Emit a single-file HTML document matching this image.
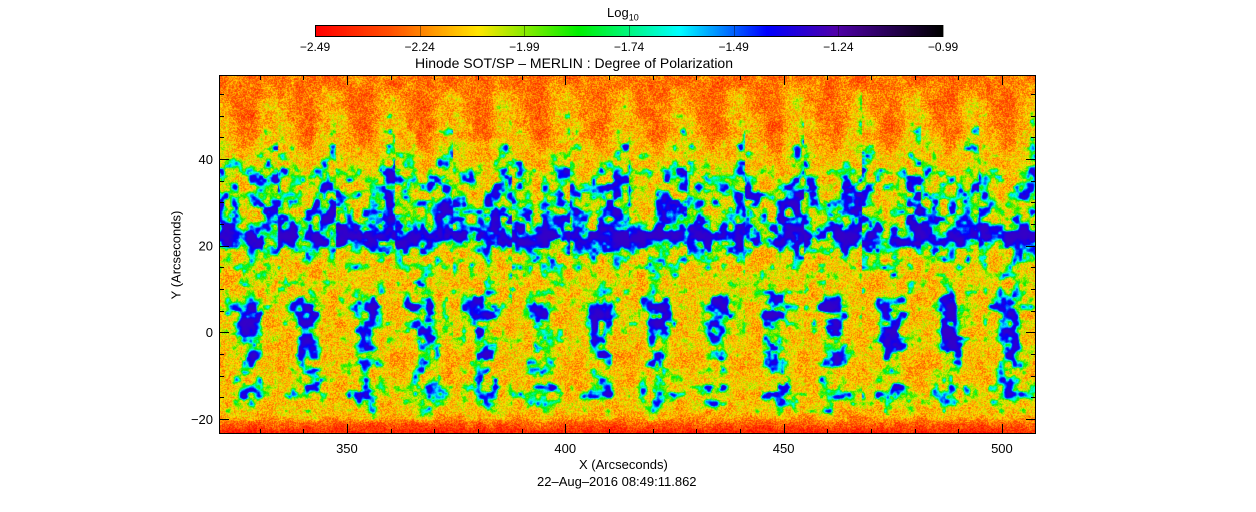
<!DOCTYPE html>
<html><head><meta charset="utf-8"><style>
html,body{margin:0;padding:0;background:#fff;}
body{width:1256px;height:512px;position:relative;overflow:hidden;font-family:"Liberation Sans",sans-serif;color:#000;}
.t{position:absolute;font-size:13px;white-space:nowrap;}
</style></head><body>
<canvas id="cb" width="628" height="12" style="position:absolute;left:315px;top:25px;"></canvas>
<canvas id="hm" width="817" height="359" style="position:absolute;left:219px;top:75px;"></canvas>
<svg id="ax" width="1256" height="512" style="position:absolute;left:0;top:0;"></svg>
<div class="t" style="left:607px;top:5px;">Log<sub style="font-size:9px">10</sub></div>
<div class="t" style="left:415px;top:55px;font-size:14px;">Hinode SOT/SP &#8211; MERLIN : Degree of Polarization</div>
<div class="t" style="left:579px;top:457px;">X (Arcseconds)</div>
<div class="t" style="left:537px;top:474px;">22&#8211;Aug&#8211;2016 08:49:11.862</div>
<div class="t" style="top:255px;transform:translate(-50%,-50%) rotate(-90deg);transform-origin:center;left:176px;">Y (Arcseconds)</div>
<script>
const cbTicks=[-2.49,-2.24,-1.99,-1.74,-1.49,-1.24,-0.99];
const xTicks=[350,400,450,500];
const yTicks=[-20,0,20,40];
const rowY=[58,52,46,41,36,31,26,22,18,14,10,6,2,-2,-6,-10,-14,-18,-21,-23.5];
const tileProfile=[
[-2.3,-2.25,-2.3,-2.3,-2.25,-2.3],
[-2.2,-2.3,-2.3,-2.3,-2.2,-2.1],
[-2.1,-2.2,-2.3,-2.3,-2.2,-1.9],
[-1.9,-2.0,-2.2,-2.2,-2.0,-1.8],
[-1.75,-1.85,-1.95,-1.85,-1.75,-1.7],
[-1.7,-1.85,-1.95,-1.8,-1.7,-1.7],
[-1.7,-1.75,-1.85,-1.75,-1.7,-1.65],
[-1.5,-1.5,-1.55,-1.5,-1.5,-1.5],
[-1.85,-1.95,-1.85,-1.8,-1.85,-1.85],
[-2.0,-2.0,-1.95,-2.0,-2.0,-2.0],
[-2.0,-2.1,-1.95,-1.95,-2.1,-2.0],
[-2.05,-1.7,-1.55,-1.55,-1.75,-2.05],
[-2.1,-2.0,-1.6,-1.65,-2.0,-2.1],
[-2.1,-2.0,-1.65,-1.65,-1.95,-2.1],
[-2.2,-2.1,-1.75,-1.65,-2.0,-2.2],
[-2.2,-2.0,-1.85,-1.9,-2.0,-2.2],
[-2.0,-1.85,-1.7,-1.7,-1.85,-2.0],
[-2.15,-2.05,-1.9,-1.9,-2.05,-2.15],
[-2.3,-2.3,-2.3,-2.3,-2.3,-2.3],
[-2.45,-2.45,-2.45,-2.45,-2.45,-2.45]];
const xMin=320.7,xMax=507.8,yMin=-23.5,yMax=59.4,tileW=13.4,vMin=-2.49,vMax=-0.99;
const PX0=219,PX1=1036,PY0=75,PY1=434;
const sx=v=>PX0+(v-xMin)/(xMax-xMin)*(PX1-PX0);
const sy=v=>PY1-(v-yMin)/(yMax-yMin)*(PY1-PY0);
const stops=[[0,255,0,0],[0.12,255,80,0],[0.26,255,230,0],[0.42,0,240,0],[0.58,0,255,255],[0.72,0,0,255],[0.83,80,0,170],[1,0,0,0]];
function cmap(f){f=Math.max(0,Math.min(1,f));for(let i=1;i<stops.length;i++){if(f<=stops[i][0]){const a=stops[i-1],b=stops[i],t=(f-a[0])/(b[0]-a[0]);return[a[1]+(b[1]-a[1])*t,a[2]+(b[2]-a[2])*t,a[3]+(b[3]-a[3])*t];}}return[0,0,0];}
(function(){const c=document.getElementById('cb').getContext('2d');for(let x=0;x<628;x++){const [r,g,b]=cmap(x/627);c.fillStyle=`rgb(${r|0},${g|0},${b|0})`;c.fillRect(x,0,1,12);}})();
function h(i,j){let n=i*374761393+j*668265263;n=(n^(n>>13))*1274126177;return ((n^(n>>16))&0xffff)/65535;}
function vn(x,y,s){const X=x/s,Y=y/s,i=Math.floor(X),j=Math.floor(Y),fx=X-i,fy=Y-j;const ux=fx*fx*(3-2*fx),uy=fy*fy*(3-2*fy);const a=h(i,j),b=h(i+1,j),c=h(i,j+1),d=h(i+1,j+1);return a+(b-a)*ux+(c-a)*uy+(a-b-c+d)*ux*uy-0.5;}
function profile(ax,ay){
  const tx=((ax-xMin)%tileW)/tileW*6-0.5;
  let ci=Math.floor(tx),cf=tx-ci;const c0=Math.max(0,Math.min(5,ci)),c1=Math.max(0,Math.min(5,ci+1));
  let r=0;while(r<rowY.length-2&&ay<rowY[r+1])r++;
  let rf=(rowY[r]-ay)/(rowY[r]-rowY[r+1]);rf=Math.max(0,Math.min(1,rf));
  const v0=tileProfile[r][c0]*(1-cf)+tileProfile[r][c1]*cf;
  const v1=tileProfile[r+1][c0]*(1-cf)+tileProfile[r+1][c1]*cf;
  return v0*(1-rf)+v1*rf;
}
(function(){const cv=document.getElementById('hm'),c=cv.getContext('2d'),W=cv.width,H=cv.height,img=c.createImageData(W,H);
for(let y=0;y<H;y++)for(let x=0;x<W;x++){
  const ax=xMin+x/(W-1)*(xMax-xMin),ay=yMax-y/(H-1)*(yMax-yMin);
  const base=profile(ax,ay);
  const tile=Math.floor((ax-xMin)/tileW);
  const pv=base+0.6*vn(x+tile*7,y,8)+0.25*vn(x,y,3.5);
  const s=1/(1+Math.exp(-(pv+1.74)*13));
  const lo=Math.min(-2.16,base+0.02)+0.1*vn(x+50,y,10);
  let v=lo+(-1.3-lo)*s;
  v+=(1-s)*0.24*(h(x,y*7+1)-0.5);
  const [r,g,b]=cmap((v-vMin)/(vMax-vMin));const k=(y*W+x)*4;
  img.data[k]=r;img.data[k+1]=g;img.data[k+2]=b;img.data[k+3]=255;}
c.putImageData(img,0,0);})();
(function(){const s=document.getElementById('ax'),NS='http://www.w3.org/2000/svg';
function el(t,a,name){const e=document.createElementNS(NS,t);for(const k in a)e.setAttribute(k,a[k]);


s.appendChild(e);return e;}
el('rect',{x:PX0+0.5,y:PY0+0.5,width:PX1-PX0-1,height:PY1-PY0-1,fill:'none',stroke:'#000','stroke-width':1},'plot-frame');
el('rect',{x:315.5,y:25.5,width:627,height:11,fill:'none',stroke:'#000','stroke-width':1},'colorbar-frame');
for(let v=330;v<=500;v+=10){const x=Math.round(sx(v))+0.5,L=(v%50===0)?10:5;
el('line',{x1:x,x2:x,y1:PY1,y2:PY1-L,stroke:'#000'},'x-tick');el('line',{x1:x,x2:x,y1:PY0,y2:PY0+L,stroke:'#000'},'x-tick-top');}
for(let v=-20;v<=55;v+=5){const y=Math.round(sy(v))+0.5,L=(v%20===0)?10:5;
el('line',{x1:PX0,x2:PX0+L,y1:y,y2:y,stroke:'#000'},'y-tick');el('line',{x1:PX1,x2:PX1-L,y1:y,y2:y,stroke:'#000'},'y-tick-right');}
xTicks.forEach(v=>{const t=el('text',{x:sx(v),y:453,'text-anchor':'middle','font-size':13,'font-family':'Liberation Sans'},'x-tick-label');t.textContent=v;});
yTicks.forEach(v=>{const t=el('text',{x:213,y:sy(v)+5,'text-anchor':'end','font-size':13,'font-family':'Liberation Sans'},'y-tick-label');t.textContent=v<0?'\u2212'+(-v):v;});
cbTicks.forEach(v=>{const x=315+(v-vMin)/(vMax-vMin)*628;
el('line',{x1:Math.round(x)+0.5,x2:Math.round(x)+0.5,y1:25,y2:37,stroke:'#000','stroke-opacity':0.4},'colorbar-tick');
const t=el('text',{x:x,y:51,'text-anchor':'middle','font-size':12,'font-family':'Liberation Sans'},'colorbar-tick-label');t.textContent='\u2212'+(-v).toFixed(2);});
})();
</script>
</body></html>
